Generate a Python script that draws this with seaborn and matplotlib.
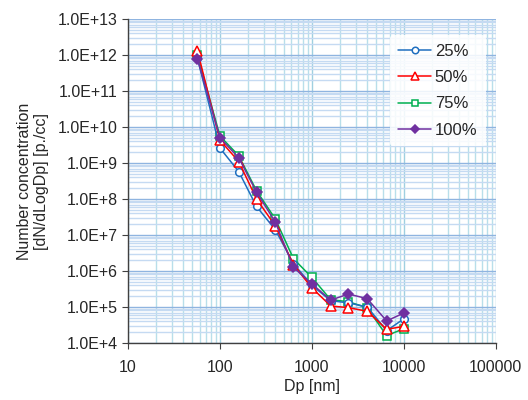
import numpy as np
import pandas as pd
import matplotlib
matplotlib.use("Agg")
import matplotlib.pyplot as plt
import matplotlib.ticker as mticker
import seaborn as sns

# ---- data ----
dp = [57, 100, 160, 250, 400, 630, 1000, 1600, 2500, 4000, 6500, 10000]
s25 = [8.0e11, 2.6e9, 5.8e8, 6.2e7, 1.4e7, 1.6e6, 4.0e5, 1.5e5, 1.3e5, 1.0e5, 2.2e4, 4.7e4]
s50 = [1.3e12, 4.3e9, 1.1e9, 1.0e8, 1.8e7, 1.5e6, 3.4e5, 1.07e5, 9.6e4, 7.6e4, 2.4e4, 2.9e4]
s75 = [1.0e12, 5.6e9, 1.6e9, 1.7e8, 2.8e7, 2.2e6, 6.6e5, 1.6e5, 1.4e5, 9.5e4, 1.6e4, 2.5e4]
s100 = [7.8e11, 5.0e9, 1.4e9, 1.55e8, 2.3e7, 1.26e6, 4.4e5, 1.55e5, 2.3e5, 1.7e5, 4.1e4, 6.8e4]
labels = ["25%", "50%", "75%", "100%"]
xticks = [10, 100, 1000, 10000, 100000]
yticks_exp = list(range(4, 14))

df = pd.DataFrame({
    "Dp": dp * 4,
    "N": s25 + s50 + s75 + s100,
    "series": sum([[l] * len(dp) for l in labels], []),
})

sns.set_style("white")
plt.rcParams["font.family"] = ["Liberation Sans", "DejaVu Sans"]

fig = plt.figure(figsize=(5.28, 4.0), dpi=100)
ax = fig.add_axes([0.2424, 0.1425, 0.6966, 0.81])

styles = {
    "25%": dict(color="#1f6fc0", marker="o", mfc="white", ms=5.5, zorder=3),
    "50%": dict(color="#ff0000", marker="^", mfc="white", ms=6.5, zorder=4),
    "75%": dict(color="#00b050", marker="s", mfc="white", ms=5.5, zorder=2),
    "100%": dict(color="#7030a0", marker="D", mfc="#7030a0", ms=4.8, zorder=5),
}

for lab in labels:
    st = styles[lab]
    sub = df[df["series"] == lab]
    sns.lineplot(data=sub, x="Dp", y="N", ax=ax, color=st["color"], marker=st["marker"],
                 markerfacecolor=st["mfc"], markeredgecolor=st["color"], markersize=st["ms"],
                 markeredgewidth=1.1, linewidth=1.1, label=lab, zorder=st["zorder"], estimator=None)

ax.set_xscale("log")
ax.set_yscale("log")
ax.set_xlim(10, 100000)
ax.set_ylim(1e4, 1e13)

ax.set_xticks(xticks)
ax.xaxis.set_major_formatter(mticker.FuncFormatter(lambda v, p: f"{int(round(v))}"))
ax.set_yticks([10.0 ** e for e in yticks_exp])
ax.yaxis.set_major_formatter(mticker.FuncFormatter(lambda v, p: f"1.0E+{int(round(np.log10(v)))}"))
ax.xaxis.set_minor_locator(mticker.LogLocator(base=10, subs=np.arange(2, 10), numticks=20))
ax.yaxis.set_minor_locator(mticker.LogLocator(base=10, subs=np.arange(2, 10), numticks=30))
ax.xaxis.set_minor_formatter(mticker.NullFormatter())
ax.yaxis.set_minor_formatter(mticker.NullFormatter())

ax.grid(True, which="major", axis="x", color="#9fd0e0", linewidth=1.0, zorder=0)
ax.grid(True, which="minor", axis="x", color="#b8dfea", linewidth=1.0, zorder=0)
ax.grid(True, which="major", axis="y", color="#8fb4e0", linewidth=1.0, zorder=0)
ax.grid(True, which="minor", axis="y", color="#c5daf2", linewidth=1.0, zorder=0)
ax.set_axisbelow(True)

for s in ["top", "right"]:
    ax.spines[s].set_visible(False)
for s in ["left", "bottom"]:
    ax.spines[s].set_color("#404040")
    ax.spines[s].set_linewidth(1.0)

ax.tick_params(axis="both", which="major", direction="out", length=4, width=0.8,
               color="#404040", labelsize=11.5, bottom=True, left=True)
ax.tick_params(axis="x", which="major", pad=8)
ax.tick_params(axis="both", which="minor", length=0)

ax.set_xlabel("Dp [nm]", fontsize=11.5, labelpad=3)
ax.set_ylabel("Number concentration\n[dN/dLogDp] [p./cc]", fontsize=11.5, labelpad=6)

leg = ax.legend(loc="upper right", bbox_to_anchor=(0.995, 0.975), frameon=True, fontsize=12,
                handlelength=2.0, handletextpad=0.2, labelspacing=0.68, borderpad=0.5,
                markerscale=0.85)
leg.get_frame().set_facecolor("white")
leg.get_frame().set_alpha(0.85)
leg.get_frame().set_edgecolor("none")

fig.savefig("out.png", dpi=100)
